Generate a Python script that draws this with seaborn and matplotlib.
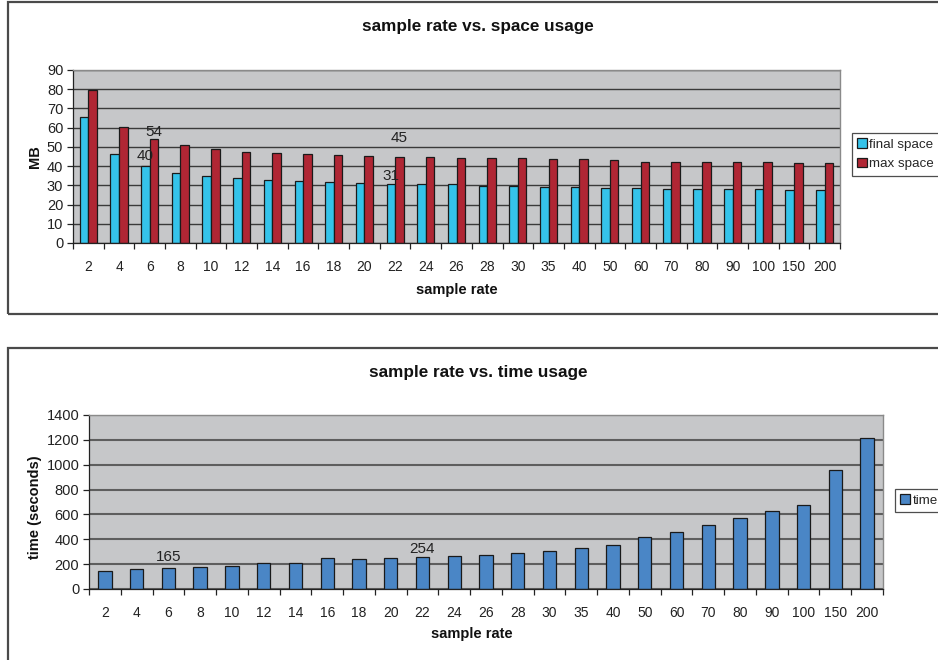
import matplotlib
matplotlib.use("Agg")
import matplotlib.pyplot as plt
from matplotlib.patches import Rectangle
import seaborn as sns
import pandas as pd

# sample rates (categorical axis)
rates = ["2", "4", "6", "8", "10", "12", "14", "16", "18", "20", "22", "24", "26",
         "28", "30", "35", "40", "50", "60", "70", "80", "90", "100", "150", "200"]

# space usage in MB
final_space = [65.4, 46.1, 40.0, 36.6, 35.0, 33.8, 32.8, 32.1, 31.6, 31.0, 30.6, 30.5, 30.5,
               29.8, 29.8, 29.3, 29.3, 28.8, 28.8, 28.1, 28.1, 28.1, 28.1, 27.6, 27.6]
max_space = [79.6, 60.5, 54.3, 50.8, 49.1, 47.5, 46.8, 46.1, 45.6, 45.1, 44.6, 44.6, 44.0,
             44.0, 44.0, 43.5, 43.5, 43.0, 42.3, 42.3, 42.3, 42.3, 42.3, 41.6, 41.6]

# time usage in seconds
time_sec = [142, 160, 165, 177, 185, 211, 211, 246, 238, 246, 254, 265, 276,
            292, 302, 329, 353, 418, 458, 511, 573, 626, 677, 956, 1218]

space_series = ["final space", "max space"]
time_series = ["time"]

space_yticks = list(range(0, 91, 10))
time_yticks = list(range(0, 1401, 200))

# rates whose bars carry value labels, with vertical offsets (points)
space_labels = {("final space", "6"): 2, ("max space", "6"): 0,
                ("final space", "22"): 1, ("max space", "22"): 9}
time_labels = {("time", "6"): 3, ("time", "22"): 1}

sns.set_theme(style="white")
plt.rcParams["font.family"] = ["Liberation Sans", "DejaVu Sans"]

W, H = 938, 660
fig = plt.figure(figsize=(W / 100, H / 100), dpi=100)


def fx(px):
    return px / W


def fy(py):
    return 1 - py / H


# panel frames
for top, bottom in [(2, 314), (348, 672)]:
    fig.add_artist(Rectangle((fx(8), fy(bottom)), fx(950 - 8), (bottom - top) / H,
                             transform=fig.transFigure, fill=False,
                             edgecolor="#4a4a4a", linewidth=1.6, clip_on=False))

PLOT_BG = "#c6c7c9"
GRID = "#3a3a3a"
TXT = "#222222"


def style_axes(ax, yticks, ymax, grid_color, grid_lw):
    ax.set_facecolor(PLOT_BG)
    ax.set_ylim(0, ymax)
    ax.set_xlim(-0.5, len(rates) - 0.5)
    ax.set_yticks(yticks)
    ax.set_yticklabels([str(t) for t in yticks], fontsize=10.5, color=TXT)
    ax.yaxis.grid(True, color=grid_color, linewidth=grid_lw)
    ax.xaxis.grid(False)
    ax.set_axisbelow(True)
    ax.set_xticks(range(len(rates)))
    ax.set_xticklabels(rates, fontsize=10, color=TXT)
    ax.set_xticks([i + 0.5 for i in range(-1, len(rates))], minor=True)
    ax.tick_params(axis="x", which="major", length=0, pad=12)
    ax.tick_params(axis="x", which="minor", length=4, width=0.9, color=TXT,
                   direction="out", bottom=True)
    ax.tick_params(axis="y", length=4, width=0.9, color=TXT, direction="out",
                   left=True, pad=3)
    for side in ["left", "bottom"]:
        ax.spines[side].set_color(TXT)
        ax.spines[side].set_linewidth(0.9)
    for side in ["top", "right"]:
        ax.spines[side].set_color("#8a8a8a")
        ax.spines[side].set_linewidth(1.0)
    ax.set_xlabel("")
    ax.set_ylabel("")


def add_labels(ax, series, label_map, values_by_series):
    for si, name in enumerate(series):
        bars = ax.containers[si]
        vals = values_by_series[name]
        for (sname, rate), off in label_map.items():
            if sname != name:
                continue
            i = rates.index(rate)
            bar = bars[i]
            xc = bar.get_x() + bar.get_width() / 2
            ax.annotate(f"{vals[i]:.0f}", xy=(xc, vals[i]), xytext=(0, off),
                        textcoords="offset points", ha="center", va="bottom",
                        fontsize=11, color=TXT)


def place_legend(ax, x, y, size):
    sns.move_legend(ax, "upper left", bbox_to_anchor=(fx(x), fy(y)),
                    bbox_transform=fig.transFigure, title=None, frameon=True,
                    fontsize=size, handlelength=0.7, handleheight=0.7,
                    handletextpad=0.2, borderpad=0.4, labelspacing=0.55,
                    borderaxespad=0, fancybox=False, edgecolor=TXT)
    ax.get_legend().get_frame().set_linewidth(0.9)


# ---- space usage chart ----
space_df = pd.DataFrame({
    "rate": rates * 2,
    "MB": final_space + max_space,
    "series": [space_series[0]] * len(rates) + [space_series[1]] * len(rates),
})
ax1 = fig.add_axes([fx(73), fy(243), fx(840 - 73), (243 - 70) / H])
sns.barplot(data=space_df, x="rate", y="MB", hue="series", order=rates,
            hue_order=space_series, palette=["#35c3ea", "#b02634"], width=0.56,
            saturation=1, edgecolor="#1a1a1a", linewidth=0.9, ax=ax1)
style_axes(ax1, space_yticks, 90, GRID, 1.0)
add_labels(ax1, space_series, space_labels,
           {"final space": final_space, "max space": max_space})
place_legend(ax1, 852, 133, 9.6)

fig.text(fx(478), fy(26), "sample rate vs. space usage", ha="center", va="center",
         fontsize=12.3, fontweight="bold", color="#111111")
fig.text(fx(457), fy(290), "sample rate", ha="center", va="center",
         fontsize=10.5, fontweight="bold", color="#111111")
fig.text(fx(35), fy(157), "MB", ha="center", va="center", rotation=90,
         fontsize=10.5, fontweight="bold", color="#111111")

# ---- time usage chart ----
time_df = pd.DataFrame({"rate": rates, "seconds": time_sec,
                        "series": time_series * len(rates)})
ax2 = fig.add_axes([fx(89), fy(589), fx(883 - 89), (589 - 415) / H])
sns.barplot(data=time_df, x="rate", y="seconds", hue="series", order=rates,
            hue_order=time_series, palette=["#4a86c6"], width=0.42,
            saturation=1, edgecolor="#1a1a1a", linewidth=0.9, ax=ax2)
style_axes(ax2, time_yticks, 1400, "#5e5e5e", 1.5)
add_labels(ax2, time_series, time_labels, {"time": time_sec})
place_legend(ax2, 895, 489, 9.6)

fig.text(fx(478), fy(372), "sample rate vs. time usage", ha="center", va="center",
         fontsize=12.3, fontweight="bold", color="#111111")
fig.text(fx(472), fy(634), "sample rate", ha="center", va="center",
         fontsize=10.5, fontweight="bold", color="#111111")
fig.text(fx(35), fy(507), "time (seconds)", ha="center", va="center", rotation=90,
         fontsize=10.5, fontweight="bold", color="#111111")

fig.savefig("out.png", dpi=100, facecolor="white")
